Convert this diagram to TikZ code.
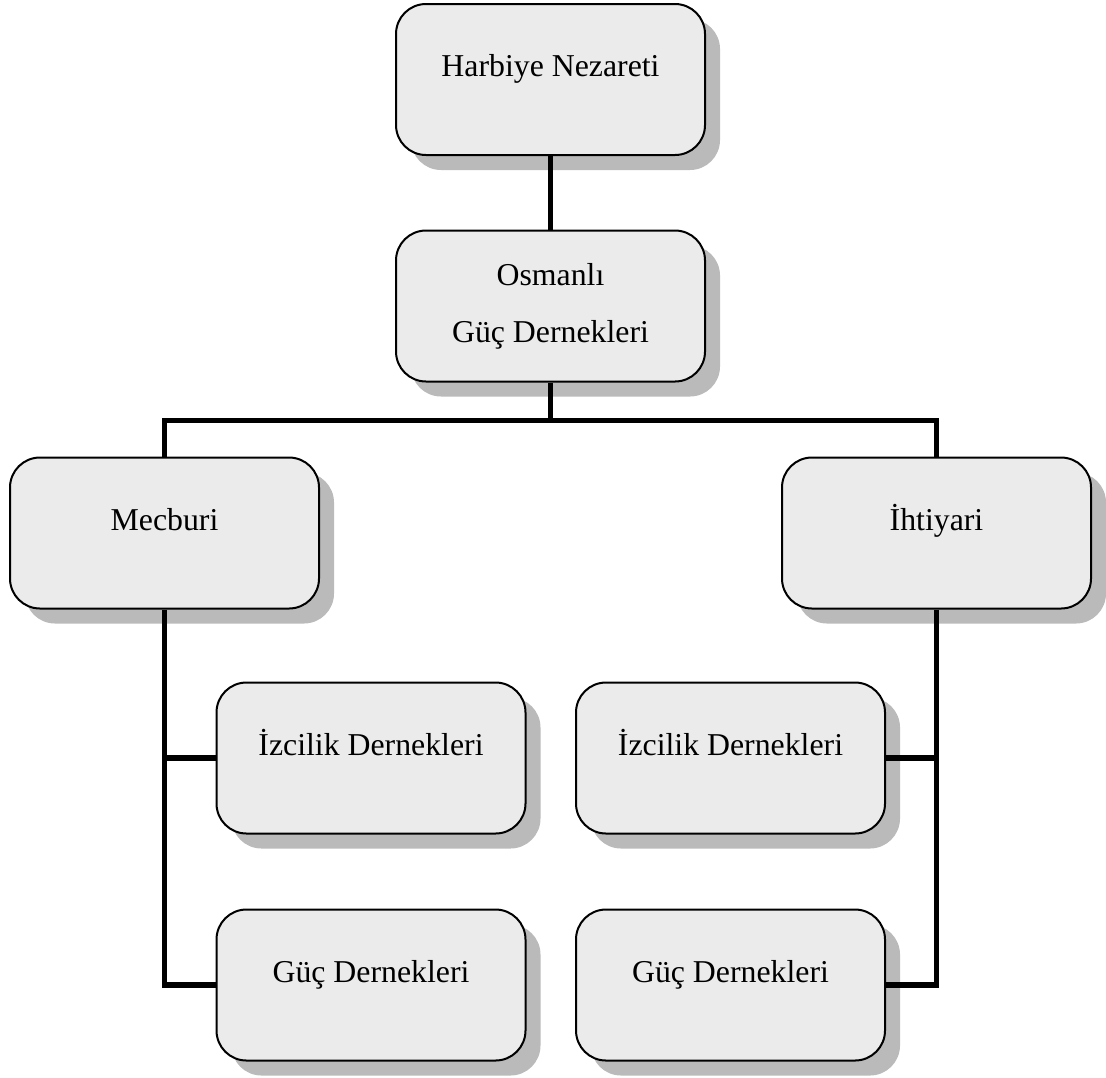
\documentclass[tikz,border=0pt]{standalone}
\usepackage{fontspec}
\setmainfont{Liberation Serif}
\usetikzlibrary{shadows,backgrounds}

\begin{document}
\begin{tikzpicture}[x=0.5pt, y=-0.5pt,
	box/.style={draw=black, line width=1pt, fill=black!8, rounded corners=15pt,
		minimum width=154.5pt, minimum height=75.5pt, align=center,
		font=\fontsize{15.9}{19}\selectfont,
		drop shadow={shadow xshift=7.5pt, shadow yshift=-7.5pt, fill=black, opacity=0.27}},
	onebox/.style={box, text height=11pt, text depth=14pt},
	link/.style={line width=2.8pt}]
	\useasboundingbox (0,0) rectangle (1106,1077);
	% top of the tree
	\node[onebox] (harbiye) at (550.5,79.5) {Harbiye Nezareti};
	\node[box] (osmanli) at (550.5,306) {Osmanlı\\[9.5pt]Güç Dernekleri};
	% two kinds
	\node[onebox] (mecburi) at (164.5,533) {Mecburi};
	\node[onebox] (ihtiyari) at (936.5,533) {İhtiyari};
	% leaves
	\node[onebox] (izcL) at (371,758) {İzcilik Dernekleri};
	\node[onebox] (gucL) at (371,985) {Güç Dernekleri};
	\node[onebox] (izcR) at (730.5,758) {İzcilik Dernekleri};
	\node[onebox] (gucR) at (730.5,985) {Güç Dernekleri};
	\begin{scope}[on background layer]
		\draw[link] (harbiye) -- (osmanli);
		\draw[link] (osmanli.south) -- ++(0,38) coordinate (bus);
		\draw[link] (mecburi.north) -- (mecburi.north |- bus) -- (ihtiyari.north |- bus) -- (ihtiyari.north);
		\draw[link] (mecburi.south) -- (mecburi.south |- gucL) -- (gucL.west);
		\draw[link] (mecburi.south |- izcL) -- (izcL.west);
		\draw[link] (ihtiyari.south) -- (ihtiyari.south |- gucR) -- (gucR.east);
		\draw[link] (ihtiyari.south |- izcR) -- (izcR.east);
	\end{scope}
\end{tikzpicture}
\end{document}
